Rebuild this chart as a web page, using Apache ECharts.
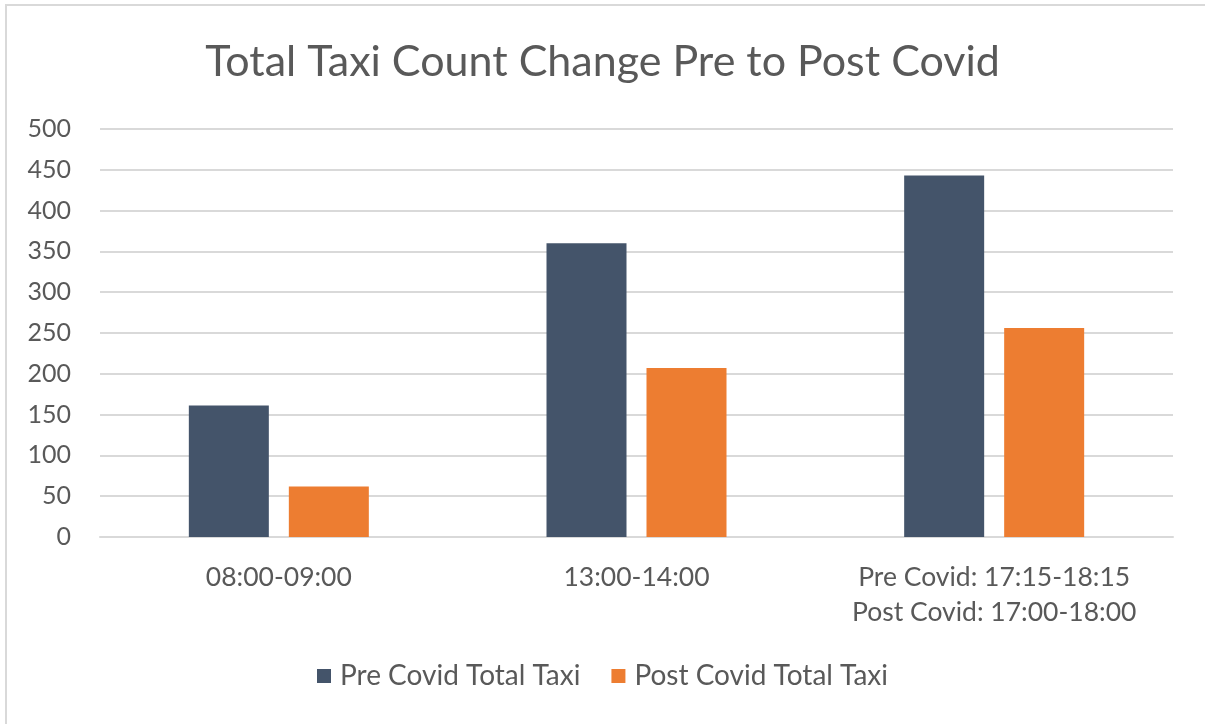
<!DOCTYPE html>
<html>
<head>
<meta charset="utf-8">
<script src="https://cdn.jsdelivr.net/npm/echarts@6/dist/echarts.min.js"></script>
<style>
  html, body { margin: 0; padding: 0; background: #ffffff; }
  #chart { width: 1205px; height: 724px; }
</style>
</head>
<body>
<div id="chart"></div>
<script>
// data
const timeSlots = ['08:00-09:00', '13:00-14:00', 'Pre Covid: 17:15-18:15\nPost Covid: 17:00-18:00']
const preCovid = [161, 360, 443]
const postCovid = [62, 207, 256]
const yTicks = [0, 500, 50] // min, max, step

const textColor = '#595959'
const gridColor = '#d9d9d9'
const font = 'Lato, "Open Sans", sans-serif'

const chart = echarts.init(document.getElementById('chart'))
chart.setOption({
  backgroundColor: '#ffffff',
  animation: false,
  textStyle: { fontFamily: font },
  graphic: [{
    // thin frame round the chart area (only top and left show)
    type: 'rect',
    shape: { x: 6, y: 5, width: 1400, height: 1000 },
    style: { fill: 'none', stroke: gridColor, lineWidth: 2 },
    silent: true
  }],
  title: {
    text: 'Total Taxi Count Change Pre to Post Covid',
    left: 'center',
    top: 36,
    textStyle: {
      fontFamily: font,
      fontWeight: 'normal',
      fontSize: 43,
      color: textColor
    }
  },
  legend: {
    bottom: 29,
    left: 'center',
    icon: 'rect',
    itemWidth: 14,
    itemHeight: 14,
    itemGap: 31,
    textStyle: { fontFamily: font, fontSize: 28, color: textColor, padding: [0, 0, 0, 4] }
  },
  grid: {
    left: 100,
    right: 32,
    top: 129,
    bottom: 187,
    containLabel: false
  },
  xAxis: {
    type: 'category',
    data: timeSlots,
    axisTick: { show: false },
    axisLine: { lineStyle: { color: gridColor, width: 2 } },
    axisLabel: {
      interval: 0,
      margin: 23,
      fontFamily: font,
      fontSize: 26.5,
      lineHeight: 35,
      color: textColor
    }
  },
  yAxis: {
    type: 'value',
    min: yTicks[0],
    max: yTicks[1],
    interval: yTicks[2],
    axisLine: { show: false },
    axisTick: { show: false },
    splitLine: { lineStyle: { color: gridColor, width: 2 } },
    axisLabel: {
      margin: 29,
      fontFamily: font,
      fontSize: 25,
      color: textColor
    }
  },
  series: [
    {
      name: 'Pre Covid Total Taxi',
      type: 'bar',
      barWidth: 80,
      barGap: '25%',
      itemStyle: { color: '#44546a' },
      data: preCovid
    },
    {
      name: 'Post Covid Total Taxi',
      type: 'bar',
      barWidth: 80,
      itemStyle: { color: '#ed7d31' },
      data: postCovid
    }
  ]
})
</script>
</body>
</html>
